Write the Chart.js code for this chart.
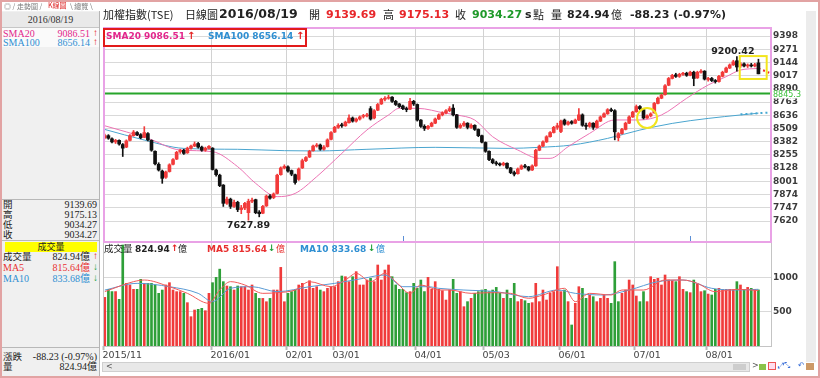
<!DOCTYPE html>
<html lang="zh-Hant">
<head>
<meta charset="UTF-8">
<title>加權指數(TSE) 日線圖</title>
<script src="https://cdn.jsdelivr.net/npm/chart.js@4.4.1/dist/chart.umd.min.js"></script>
<style>
  html, body { margin: 0; padding: 0; }
  body { width: 820px; height: 378px; overflow: hidden; background: #fff; position: relative;
         font-family: "DejaVu Sans", "Noto Sans CJK TC", sans-serif; color: #222; }
  #chart { position: absolute; left: 0; top: 0; }
  .t { position: absolute; white-space: nowrap; line-height: 1; }
  .b { font-weight: bold; }
  .cjk { font-family: "Noto Sans CJK TC", sans-serif; }
  #frame { position: absolute; left: 0; top: 0; width: 820px; height: 378px; box-sizing: border-box;
           border: 2px solid #e2a3a3; pointer-events: none; z-index: 20; }
  #side { position: absolute; left: 2px; top: 11px; width: 97px; height: 365px; background: #f0f0f0;
          border-right: 1px solid #b5b5b5; font-family: "Liberation Serif", "Noto Sans CJK TC", serif;
          font-size: 10px; z-index: 5; }
  #side .t { font-size: 10px; }
  #side .cjk { font-size: 9.5px; }
  .r { text-align: right; }
  .up { color: #e52222; font-weight: bold; }
  .dn { color: #21a03a; font-weight: bold; }
  #tabs { position: absolute; left: 2px; top: 2px; width: 140px; height: 9px; font-size: 7px; color: #777; }
  #rstrip { position: absolute; left: 806px; top: 11px; width: 10px; height: 351px; background: #ececec; }
  #scroll { position: absolute; left: 102px; top: 362px; width: 648px; height: 10px; background: #e8e8e8;
            border: 1px solid #cfcfcf; box-sizing: border-box; }
  .hc { font-family: "Noto Sans CJK TC", sans-serif; font-size: 11px; top: 9px; }
  .hn { font-weight: bold; font-size: 11px; top: 9px; }
</style>
</head>
<body>
<canvas id="chart" width="820" height="378"></canvas>

<div id="tabs">
  <span class="t cjk" style="left:2px;top:1px;">◎ / 走勢圖 /</span>
  <span class="t cjk" style="left:44px;top:0px;background:#fff;color:#d22;padding:0 2px;">K線圖</span>
  <span class="t cjk" style="left:68px;top:1px;">\ 總覽 \</span>
</div>

<div id="side">
  <div class="t" style="left:0;top:1px;width:97px;height:15px;background:#e9e9e9;border-bottom:1px solid #c6c6c6;"></div>
  <span class="t" style="left:0;top:4px;width:97px;text-align:center;color:#333;">2016/08/19</span>
  <div class="t" style="left:0;top:17px;width:97px;height:19px;background:#fafafa;"></div>
  <span class="t" style="left:1px;top:18px;color:#e3268c;">SMA20</span>
  <span class="t r" style="right:9px;top:18px;color:#e3268c;">9086.51</span>
  <span class="t up" style="right:1px;top:17px;">↑</span>
  <span class="t" style="left:1px;top:27px;color:#2f8fd2;">SMA100</span>
  <span class="t r" style="right:9px;top:27px;color:#2f8fd2;">8656.14</span>
  <span class="t up" style="right:1px;top:26px;">↑</span>

  <div class="t" style="left:0;top:188px;width:97px;height:1px;background:#b8b8b8;"></div>
  <span class="t cjk" style="left:1px;top:189px;">開</span><span class="t r" style="right:2px;top:189px;">9139.69</span>
  <span class="t cjk" style="left:1px;top:199px;">高</span><span class="t r" style="right:2px;top:199px;">9175.13</span>
  <span class="t cjk" style="left:1px;top:209px;">低</span><span class="t r" style="right:2px;top:209px;">9034.27</span>
  <span class="t cjk" style="left:1px;top:219px;">收</span><span class="t r" style="right:2px;top:219px;">9034.27</span>
  <div class="t" style="left:0;top:229px;width:97px;height:1px;background:#b8b8b8;"></div>

  <div class="t cjk" style="left:3px;top:231px;width:92px;height:10px;background:#ffff00;text-align:center;font-size:9px;line-height:10px;">成交量</div>
  <span class="t cjk" style="left:1px;top:241px;">成交量</span>
  <span class="t r" style="right:9px;top:241px;">824.94億</span><span class="t up" style="right:1px;top:240px;">↑</span>
  <span class="t" style="left:1px;top:252px;color:#e83030;">MA5</span>
  <span class="t r" style="right:9px;top:252px;color:#e83030;">815.64億</span><span class="t dn" style="right:1px;top:251px;">↓</span>
  <span class="t" style="left:1px;top:263px;color:#2f8fd2;">MA10</span>
  <span class="t r" style="right:9px;top:263px;color:#2f8fd2;">833.68億</span><span class="t dn" style="right:1px;top:262px;">↓</span>

  <div class="t" style="left:0;top:336px;width:97px;height:1px;background:#b8b8b8;"></div>
  <span class="t cjk" style="left:1px;top:341px;">漲跌</span><span class="t r" style="right:2px;top:341px;">-88.23 (-0.97%)</span>
  <span class="t cjk" style="left:1px;top:351px;">量</span><span class="t r" style="right:2px;top:351px;">824.94億</span>
</div>

<!-- header line -->
<span class="t hc" style="left:103px;">加權指數(TSE)</span>
<span class="t hc" style="left:185px;">日線圖</span>
<span class="t b" style="left:219px;top:8px;font-size:12.5px;">2016/08/19</span>
<span class="t hc" style="left:309px;">開</span>
<span class="t hn" style="left:326px;color:#e8262a;">9139.69</span>
<span class="t hc" style="left:383px;">高</span>
<span class="t hn" style="left:399px;color:#e8262a;">9175.13</span>
<span class="t hc" style="left:455px;">收</span>
<span class="t hn" style="left:472px;color:#1f9a2a;">9034.27</span>
<span class="t hn" style="left:525px;">s</span>
<span class="t hc" style="left:533px;">點</span>
<span class="t hc" style="left:551px;">量</span>
<span class="t hn" style="left:567px;">824.94</span>
<span class="t hc" style="left:611px;">億</span>
<span class="t hn" style="left:630px;">-88.23 (-0.97%)</span>

<!-- SMA legend box -->
<div class="t" style="left:103px;top:28px;width:200px;height:15px;border:2px solid #e21b1b;"></div>
<span class="t b" style="left:106px;top:32px;font-size:9px;color:#e3268c;">SMA20 9086.51</span>
<span class="t up" style="left:187px;top:31px;font-size:10px;">↑</span>
<span class="t b" style="left:208px;top:32px;font-size:9px;color:#2f8fd2;">SMA100 8656.14</span>
<span class="t up" style="left:296px;top:31px;font-size:10px;">↑</span>

<!-- volume legend -->
<span class="t cjk" style="left:104px;top:244px;font-size:9.5px;">成交量</span>
<span class="t b" style="left:135px;top:245px;font-size:9px;">824.94</span>
<span class="t up" style="left:171px;top:244px;font-size:9px;">↑</span>
<span class="t cjk" style="left:178px;top:244px;font-size:9px;">億</span>
<span class="t b" style="left:207px;top:245px;font-size:9px;color:#e83030;">MA5 815.64</span>
<span class="t dn" style="left:268px;top:244px;font-size:9px;">↓</span>
<span class="t cjk" style="left:276px;top:244px;font-size:9px;color:#e83030;">億</span>
<span class="t b" style="left:300px;top:245px;font-size:9px;color:#2f8fd2;">MA10 833.68</span>
<span class="t dn" style="left:368px;top:244px;font-size:9px;">↓</span>
<span class="t cjk" style="left:376px;top:244px;font-size:9px;color:#2f8fd2;">億</span>

<div id="rstrip"></div>
<div id="scroll">
  <span class="t" style="left:3px;top:0px;font-size:8px;color:#555;">&lt;</span>
  <div class="t" style="left:630px;top:1px;width:13px;height:6px;background:#cdcdcd;"></div>
</div>
<span class="t" style="left:752px;top:362px;font-size:8px;color:#555;">&gt;</span>
<div class="t" style="left:759px;top:364px;width:7px;height:6px;background:#8bc34a;"></div>
<div class="t" style="left:768px;top:362px;width:8px;height:8px;border:1px solid #e55;background:#fde;box-sizing:border-box;"></div>
<span class="t" style="left:778px;top:362px;font-size:8px;color:#3a6fd8;">⤢⤡</span>
<span class="t" style="left:798px;top:362px;font-size:8px;color:#3a6fd8;">↶</span>
<div class="t" style="left:806px;top:363px;width:8px;height:7px;background:#c96;"></div>

<div id="frame"></div>

<script>
// ---- trading days: Nov 20 2015 .. Aug 19 2016 (183 sessions) + 3 empty slots ----
const slotCount = 186;
const monthIdx = [0, 30, 51, 64, 87, 106, 127, 148, 168];
const monthLabels = ['2015/11', '2016/01', '02/01', '03/01', '04/01', '05/03', '06/01', '07/01', '08/01'];

const opens = [
  8420, 8440, 8410, 8380, 8395, 8355, 8330, 8395, 8440, 8470,
  8450, 8425, 8460, 8395, 8290, 8165, 8100, 8040, 8095, 8165,
  8215, 8285, 8300, 8275, 8320, 8340, 8365, 8330, 8300, 8320,
  8320, 8110, 8060, 7965, 7790, 7830, 7760, 7800, 7730, 7745,
  7700, 7810, 7825, 7705, 7695, 7765, 7860, 7845, 7885, 8065,
  8130, 8140, 8105, 8065, 8020, 8130, 8200, 8235, 8295, 8340,
  8350, 8310, 8335, 8405, 8475, 8520, 8545, 8535, 8565, 8610,
  8580, 8600, 8625, 8630, 8700, 8610, 8685, 8745, 8790, 8800,
  8810, 8770, 8745, 8725, 8700, 8695, 8770, 8740, 8590, 8530,
  8510, 8530, 8560, 8600, 8640, 8660, 8680, 8705, 8640, 8520,
  8540, 8560, 8520, 8540, 8500, 8440, 8375, 8290, 8210, 8180,
  8170, 8160, 8175, 8130, 8085, 8075, 8120, 8150, 8140, 8110,
  8150, 8300, 8340, 8380, 8430, 8470, 8520, 8480, 8590, 8550,
  8575, 8560, 8590, 8640, 8540, 8530, 8560, 8520, 8580, 8620,
  8650, 8690, 8680, 8420, 8460, 8500, 8560, 8620, 8670, 8720,
  8690, 8610, 8630, 8660, 8750, 8800, 8835, 8925, 8990, 9025,
  9010, 9030, 9040, 9020, 9050, 8995, 9050, 9060, 8980, 8990,
  8970, 8960, 9010, 9050, 9090, 9120, 9160, 9110, 9130, 9110,
  9120, 9110, 9139.69
];
const highs = [
  8455, 8450, 8420, 8405, 8400, 8365, 8400, 8450, 8490, 8480,
  8460, 8527, 8470, 8400, 8295, 8180, 8110, 8100, 8170, 8220,
  8290, 8310, 8310, 8330, 8350, 8380, 8375, 8340, 8330, 8345,
  8325, 8120, 8070, 7970, 7850, 7840, 7820, 7810, 7770, 7800,
  7830, 7840, 7830, 7720, 7770, 7870, 7875, 7890, 8070, 8140,
  8160, 8150, 8110, 8070, 8130, 8215, 8240, 8300, 8350, 8365,
  8360, 8345, 8410, 8480, 8530, 8555, 8560, 8580, 8640, 8620,
  8610, 8630, 8645, 8655, 8720, 8690, 8750, 8800, 8815, 8830,
  8815, 8780, 8750, 8735, 8715, 8800, 8780, 8745, 8595, 8545,
  8540, 8570, 8610, 8650, 8670, 8690, 8720, 8740, 8645, 8555,
  8575, 8565, 8555, 8545, 8505, 8445, 8380, 8295, 8220, 8195,
  8180, 8185, 8180, 8135, 8100, 8130, 8160, 8165, 8145, 8160,
  8310, 8350, 8390, 8440, 8480, 8530, 8560, 8590, 8600, 8580,
  8585, 8600, 8700, 8650, 8560, 8570, 8565, 8590, 8630, 8660,
  8700, 8705, 8690, 8470, 8510, 8570, 8630, 8675, 8735, 8730,
  8700, 8640, 8660, 8760, 8810, 8840, 8930, 9000, 9030, 9040,
  9040, 9050, 9050, 9060, 9060, 9060, 9075, 9065, 9000, 9000,
  8980, 9020, 9060, 9100, 9130, 9165, 9200.42, 9145, 9140, 9130,
  9135, 9135, 9175.13
];
const lows = [
  8410, 8405, 8370, 8365, 8350, 8240, 8325, 8390, 8435, 8440,
  8410, 8420, 8390, 8290, 8160, 8100, 7982, 8030, 8090, 8160,
  8210, 8270, 8260, 8270, 8310, 8335, 8320, 8290, 8290, 8310,
  8110, 8050, 7950, 7760, 7780, 7740, 7750, 7710, 7690, 7730,
  7627.89, 7795, 7690, 7660, 7690, 7760, 7830, 7835, 7880, 8060,
  8120, 8090, 8055, 7975, 8010, 8125, 8190, 8230, 8290, 8330,
  8300, 8300, 8330, 8400, 8470, 8510, 8520, 8530, 8560, 8570,
  8570, 8590, 8610, 8620, 8590, 8600, 8680, 8740, 8775, 8790,
  8760, 8730, 8710, 8690, 8670, 8690, 8730, 8580, 8520, 8490,
  8500, 8525, 8555, 8595, 8630, 8650, 8670, 8630, 8510, 8510,
  8530, 8505, 8510, 8490, 8430, 8370, 8280, 8200, 8170, 8155,
  8150, 8150, 8120, 8075, 8053, 8070, 8115, 8130, 8100, 8105,
  8145, 8295, 8335, 8375, 8425, 8465, 8500, 8470, 8540, 8540,
  8550, 8555, 8585, 8530, 8500, 8520, 8500, 8515, 8575, 8615,
  8645, 8670, 8400, 8390, 8455, 8495, 8555, 8615, 8665, 8690,
  8600, 8605, 8620, 8655, 8745, 8795, 8830, 8920, 8985, 9000,
  9000, 9020, 9010, 9015, 8920, 8990, 9040, 8975, 8965, 8960,
  8945, 8955, 9005, 9045, 9085, 9115, 9060, 9095, 9100, 9095,
  9100, 9100, 9034.27
];
const closes = [
  8440, 8415, 8380, 8395, 8360, 8320, 8390, 8440, 8475, 8450,
  8420, 8470, 8400, 8300, 8170, 8110, 8030, 8090, 8160, 8210,
  8280, 8300, 8270, 8320, 8340, 8360, 8330, 8300, 8320, 8338,
  8115, 8065, 7960, 7790, 7830, 7760, 7800, 7730, 7745, 7790,
  7810, 7820, 7700, 7690, 7760, 7860, 7840, 7880, 8060, 8130,
  8145, 8100, 8070, 7990, 8120, 8200, 8230, 8290, 8340, 8350,
  8310, 8330, 8400, 8470, 8520, 8540, 8535, 8570, 8610, 8580,
  8600, 8620, 8630, 8640, 8600, 8680, 8740, 8790, 8800, 8810,
  8770, 8740, 8720, 8700, 8690, 8770, 8745, 8590, 8530, 8510,
  8530, 8560, 8600, 8640, 8660, 8680, 8700, 8640, 8520, 8540,
  8560, 8520, 8540, 8500, 8440, 8378, 8290, 8210, 8180, 8170,
  8160, 8175, 8130, 8085, 8070, 8120, 8150, 8140, 8110, 8150,
  8300, 8340, 8380, 8430, 8470, 8520, 8536, 8580, 8550, 8570,
  8560, 8590, 8640, 8540, 8530, 8560, 8520, 8580, 8620, 8650,
  8690, 8680, 8477, 8460, 8500, 8560, 8620, 8667, 8720, 8700,
  8610, 8630, 8650, 8750, 8800, 8830, 8920, 8990, 9020, 9010,
  9030, 9040, 9020, 9050, 8990, 9050, 9060, 8984, 8990, 8970,
  8960, 9010, 9050, 9090, 9120, 9150, 9100, 9130, 9110, 9120,
  9110, 9122.5, 9034.27
];
// volume in 億
const volumes = [
  715, 833, 800, 800, 686, 1485, 921, 897, 833, 833,
  980, 921, 921, 921, 897, 774, 823, 897, 931, 823,
  799, 799, 774, 637, 431, 529, 539, 554, 519, 774,
  931, 1009, 1130, 946, 882, 872, 823, 882, 872, 872,
  823, 897, 774, 700, 700, 651, 700, 823, 823, 1156,
  651, 774, 800, 823, 897, 921, 833, 960, 848, 872,
  823, 799, 848, 872, 872, 946, 1029, 1019, 946, 1019,
  1093, 897, 897, 970, 995, 946, 1191, 970, 1117, 1191,
  1019, 897, 833, 833, 784, 799, 921, 848, 970, 800,
  1009, 833, 946, 833, 813, 676, 823, 980, 774, 799,
  578, 652, 701, 774, 799, 823, 833, 799, 823, 862,
  774, 701, 823, 701, 921, 652, 686, 666, 627, 637,
  921, 652, 823, 676, 774, 799, 1166, 799, 823, 652,
  309, 627, 872, 848, 701, 750, 725, 652, 701, 750,
  701, 627, 1240, 652, 774, 823, 970, 897, 735, 652,
  799, 652, 1019, 980, 995, 897, 1044, 970, 960, 946,
  1019, 833, 799, 784, 970, 911, 799, 813, 764, 750,
  833, 848, 833, 833, 833, 823, 946, 897, 833, 862,
  848, 833, 824.94
];

// moving averages: [session index, value]
const sma20Pts = [[0, 8535], [12, 8414], [21, 8302], [30, 8286], [37, 8142], [42, 7982], [48, 7854],
  [53, 7885], [59, 8046], [66, 8270], [73, 8495], [79, 8639], [82, 8703], [87, 8703], [95, 8655],
  [98, 8639], [103, 8591], [108, 8430], [115, 8302], [121, 8222], [124, 8222], [129, 8334],
  [135, 8462], [142, 8591], [149, 8591], [155, 8639], [162, 8799], [168, 8927], [173, 9007],
  [177, 9071], [182, 9086.51]];
const sma100Pts = [[0, 8500], [11, 8398], [22, 8318], [37, 8309], [50, 8296], [59, 8293], [73, 8309],
  [92, 8328], [112, 8318], [121, 8328], [130, 8350], [140, 8414], [149, 8494], [158, 8558],
  [168, 8606], [177, 8639], [182, 8656.14]];
const sma20Proj = [[182, 9086.51], [185, 9045]];
const sma100Proj = [[177, 8645], [185, 8662]];
const volMa5Pts = [[0, 800], [8, 946], [11, 970], [18, 872], [23, 774], [29, 627], [32, 823], [35, 946],
  [39, 897], [44, 774], [48, 784], [53, 823], [57, 946], [63, 872], [67, 970], [70, 1068], [74, 946],
  [78, 1068], [81, 946], [85, 774], [88, 897], [93, 823], [96, 823], [102, 774], [107, 784],
  [113, 774], [118, 701], [122, 750], [128, 848], [131, 652], [135, 774], [141, 750], [144, 823],
  [150, 823], [156, 970], [161, 970], [165, 921], [170, 799], [176, 833], [182, 815.64]];
const volMa10Pts = [[0, 823], [9, 921], [18, 872], [26, 774], [30, 652], [35, 848], [41, 872], [48, 799],
  [57, 872], [64, 921], [72, 995], [78, 1044], [83, 872], [90, 872], [93, 848], [100, 823],
  [109, 799], [118, 725], [126, 823], [131, 774], [139, 750], [146, 823], [154, 946], [161, 970],
  [169, 848], [176, 823], [182, 833.68]];

const priceTicks = [9398, 9271, 9144, 9017, 8890, 8763, 8636, 8509, 8382, 8255, 8128, 8001, 7874, 7747, 7620];
const volTicks = [1000, 500];
const supportLevel = 8845.3;
const highMark = { idx: 176, value: 9200.42 };
const lowMark = { idx: 40, value: 7627.89 };
const eventIdx = [83, 163];

// ---- build ----
const labels = Array.from({ length: slotCount }, (_, i) => i);
function place(points) {
  const out = new Array(slotCount).fill(null);
  points.forEach(([i, v]) => { out[i] = v; });
  return out;
}
const UP = '#f23a3a', DOWN = '#111', VUP = '#f03b3b', VDOWN = '#2e9f38';
const candleColors = closes.map((c, i) => c >= opens[i] ? UP : DOWN);
const volColors = closes.map((c, i) => c >= (i ? closes[i - 1] : opens[i]) ? VUP : VDOWN);

const decor = {
  id: 'decor',
  beforeDatasetsDraw(chart) {
    const { ctx, chartArea: a, scales: { x, y } } = chart;
    ctx.save();
    ctx.strokeStyle = '#d2d2d2';
    ctx.lineWidth = 1;
    monthIdx.slice(1).forEach(i => {
      const px = Math.round(x.getPixelForValue(i)) - 1.5;
      ctx.beginPath(); ctx.moveTo(px, a.top); ctx.lineTo(px, a.bottom); ctx.stroke();
    });
    const gy = y.getPixelForValue(supportLevel);
    ctx.strokeStyle = '#27a52b';
    ctx.lineWidth = 2;
    ctx.beginPath(); ctx.moveTo(a.left, gy); ctx.lineTo(a.right, gy); ctx.stroke();
    ctx.restore();
  },
  afterDatasetsDraw(chart) {
    const { ctx, chartArea: a, scales: { x, y, yv } } = chart;
    ctx.save();
    const split = Math.round(yv.top);
    // volume panel frame
    ctx.strokeStyle = '#c4c4c4';
    ctx.lineWidth = 1;
    ctx.strokeRect(a.left + 0.5, split + 0.5, a.right - a.left, a.bottom - split);
    // price panel frame
    ctx.strokeStyle = '#e9a2e6';
    ctx.lineWidth = 2;
    ctx.strokeRect(a.left + 1, a.top + 1, a.right - a.left - 1, split - a.top - 1);

    // event markers
    ctx.strokeStyle = '#5b8fd6';
    ctx.lineWidth = 1;
    eventIdx.forEach(i => {
      const px = Math.round(x.getPixelForValue(i)) + 0.5;
      ctx.beginPath(); ctx.moveTo(px, split - 6); ctx.lineTo(px, split - 1); ctx.stroke();
    });

    // high / low notes
    ctx.fillStyle = '#222';
    ctx.font = 'bold 9.5px "DejaVu Sans"';
    ctx.textAlign = 'center';
    ctx.textBaseline = 'bottom';
    ctx.fillText(highMark.value.toFixed(2), x.getPixelForValue(highMark.idx) - 4, y.getPixelForValue(highMark.value));
    ctx.textBaseline = 'top';
    ctx.fillText(lowMark.value.toFixed(2), x.getPixelForValue(lowMark.idx), y.getPixelForValue(lowMark.value) + 1);

    // yellow highlights
    ctx.strokeStyle = '#f2e51d';
    ctx.lineWidth = 2;
    const rx0 = x.getPixelForValue(176.8), rx1 = x.getPixelForValue(184.3);
    const ry0 = y.getPixelForValue(9205), ry1 = y.getPixelForValue(8985);
    ctx.strokeRect(rx0, ry0, rx1 - rx0, ry1 - ry0);
    ctx.beginPath();
    ctx.arc(x.getPixelForValue(151), y.getPixelForValue(8610), 10, 0, Math.PI * 2);
    ctx.stroke();

    // support label on the axis
    const gy = y.getPixelForValue(supportLevel);
    ctx.fillStyle = '#fff';
    ctx.fillRect(a.right + 2, gy - 3, 32, 8);
    ctx.fillStyle = '#3cc03c';
    ctx.font = '8px "DejaVu Sans"';
    ctx.textAlign = 'left';
    ctx.textBaseline = 'middle';
    ctx.fillText(supportLevel.toFixed(1), a.right + 2, gy + 1);

    // month labels
    ctx.strokeStyle = '#bbb';
    ctx.fillStyle = '#444';
    ctx.font = '9.5px "DejaVu Sans"';
    monthIdx.forEach((i, k) => {
      const px = Math.round(x.getPixelForValue(i)) - 1.5;
      ctx.beginPath(); ctx.moveTo(px, a.bottom); ctx.lineTo(px, a.bottom + 4); ctx.stroke();
      ctx.fillText(monthLabels[k], px - 1, a.bottom + 10);
    });
    ctx.restore();
  }
};

const tickFont = { family: 'DejaVu Sans', size: 9, weight: 'bold' };

new Chart(document.getElementById('chart'), {
  type: 'bar',
  data: {
    labels,
    datasets: [
      { type: 'line', data: place(sma20Pts), yAxisID: 'y', borderColor: '#ec74b4', borderWidth: 1,
        pointRadius: 0, spanGaps: true, cubicInterpolationMode: 'monotone', order: 4 },
      { type: 'line', data: place(sma100Pts), yAxisID: 'y', borderColor: '#4aa5cf', borderWidth: 1,
        pointRadius: 0, spanGaps: true, cubicInterpolationMode: 'monotone', order: 4 },
      { type: 'line', data: place(sma20Proj), yAxisID: 'y', borderColor: '#f02a2a', borderWidth: 2,
        borderDash: [2, 3], pointRadius: 0, spanGaps: true, order: 4 },
      { type: 'line', data: place(sma100Proj), yAxisID: 'y', borderColor: '#45a8d2', borderWidth: 2,
        borderDash: [2, 3], pointRadius: 0, spanGaps: true, order: 4 },
      { data: lows.map((l, i) => [l, highs[i]]), yAxisID: 'y', backgroundColor: candleColors,
        barThickness: 1, grouped: false, order: 2 },
      { data: opens.map((o, i) => [o, closes[i]]), yAxisID: 'y', backgroundColor: candleColors,
        barThickness: 3, minBarLength: 1, grouped: false, order: 1 },
      { data: volumes, yAxisID: 'yv', backgroundColor: volColors, barThickness: 2, grouped: false, order: 5 },
      { type: 'line', data: place(volMa5Pts), yAxisID: 'yv', borderColor: '#f25a5a', borderWidth: 1,
        pointRadius: 0, spanGaps: true, cubicInterpolationMode: 'monotone', order: 3 },
      { type: 'line', data: place(volMa10Pts), yAxisID: 'yv', borderColor: '#5a9bd5', borderWidth: 1,
        pointRadius: 0, spanGaps: true, cubicInterpolationMode: 'monotone', order: 3 }
    ]
  },
  options: {
    responsive: false,
    animation: false,
    events: [],
    devicePixelRatio: 1,
    layout: { padding: { left: 103, top: 27, right: 0, bottom: 32 } },
    plugins: { legend: { display: false }, tooltip: { enabled: false } },
    scales: {
      x: { type: 'category', display: false, offset: true },
      y: {
        position: 'right', stack: 'main', stackWeight: 215, min: 7418.2, max: 9484.5,
        afterBuildTicks: s => { s.ticks = priceTicks.map(v => ({ value: v })); },
        afterFit: s => { s.width = 49; },
        ticks: { font: tickFont, color: '#3b3b3b', padding: 2, autoSkip: false, callback: v => String(v) },
        grid: { color: '#d9d9d9', drawTicks: false },
        border: { display: false }
      },
      yv: {
        position: 'right', stack: 'main', stackWeight: 104, min: 0, max: 1529,
        afterBuildTicks: s => { s.ticks = volTicks.map(v => ({ value: v })); },
        afterFit: s => { s.width = 49; },
        ticks: { font: tickFont, color: '#3b3b3b', padding: 2, autoSkip: false, callback: v => String(v) },
        grid: { color: '#d9d9d9', drawTicks: false },
        border: { display: false }
      }
    }
  },
  plugins: [decor]
});
</script>
</body>
</html>
